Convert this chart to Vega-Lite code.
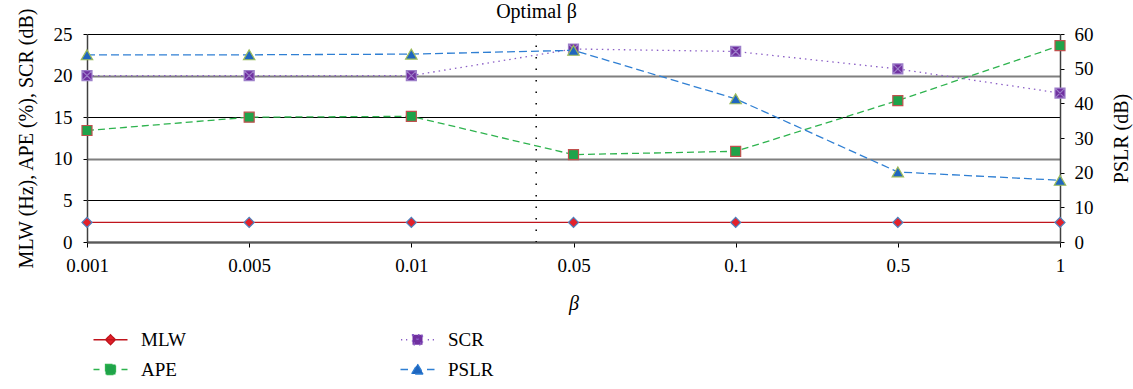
{
  "$schema": "https://vega.github.io/schema/vega-lite/v6.json",
  "autosize": {"type": "none"},
  "padding": {"left": 87, "top": 34, "right": 73, "bottom": 147},
  "width": 973,
  "height": 208,
  "background": "white",
  "title": {"text": "Optimal β", "font": "'Liberation Serif', serif", "fontSize": 20, "fontWeight": "normal", "color": "#000", "dx": -37, "offset": -31, "baseline": "alphabetic"},
  "config": {
    "view": {"stroke": null},
    "font": "'Liberation Serif', serif",
    "axis": {"labelFont": "'Liberation Serif', serif", "titleFont": "'Liberation Serif', serif", "labelFontSize": 19, "titleFontSize": 20, "titleFontWeight": "normal", "labelColor": "#000", "titleColor": "#000", "tickColor": "#000", "domainColor": "#333"},
    "legend": {"orient": "none", "legendX": 14, "legendY": 296, "columns": 2, "columnPadding": 210, "rowPadding": 10, "labelFont": "'Liberation Serif', serif", "labelFontSize": 19, "labelColor": "#000", "labelOffset": 21, "symbolSize": 100, "symbolStrokeWidth": 1.3, "padding": 0}
  },
  "data": {"values": [
    {"beta": "0.001", "idx": 0, "series": "MLW", "value": 2.35},
    {"beta": "0.005", "idx": 1, "series": "MLW", "value": 2.35},
    {"beta": "0.01", "idx": 2, "series": "MLW", "value": 2.35},
    {"beta": "0.05", "idx": 3, "series": "MLW", "value": 2.35},
    {"beta": "0.1", "idx": 4, "series": "MLW", "value": 2.35},
    {"beta": "0.5", "idx": 5, "series": "MLW", "value": 2.35},
    {"beta": "1", "idx": 6, "series": "MLW", "value": 2.35},
    {"beta": "0.001", "idx": 0, "series": "APE", "value": 13.4},
    {"beta": "0.005", "idx": 1, "series": "APE", "value": 15.0},
    {"beta": "0.01", "idx": 2, "series": "APE", "value": 15.1},
    {"beta": "0.05", "idx": 3, "series": "APE", "value": 10.5},
    {"beta": "0.1", "idx": 4, "series": "APE", "value": 10.9},
    {"beta": "0.5", "idx": 5, "series": "APE", "value": 17.0},
    {"beta": "1", "idx": 6, "series": "APE", "value": 23.6},
    {"beta": "0.001", "idx": 0, "series": "SCR", "value": 20.0},
    {"beta": "0.005", "idx": 1, "series": "SCR", "value": 20.0},
    {"beta": "0.01", "idx": 2, "series": "SCR", "value": 20.0},
    {"beta": "0.05", "idx": 3, "series": "SCR", "value": 23.2},
    {"beta": "0.1", "idx": 4, "series": "SCR", "value": 22.9},
    {"beta": "0.5", "idx": 5, "series": "SCR", "value": 20.8},
    {"beta": "1", "idx": 6, "series": "SCR", "value": 17.9},
    {"beta": "0.001", "idx": 0, "series": "PSLR", "value": 54.0},
    {"beta": "0.005", "idx": 1, "series": "PSLR", "value": 54.0},
    {"beta": "0.01", "idx": 2, "series": "PSLR", "value": 54.2},
    {"beta": "0.05", "idx": 3, "series": "PSLR", "value": 55.3},
    {"beta": "0.1", "idx": 4, "series": "PSLR", "value": 41.3},
    {"beta": "0.5", "idx": 5, "series": "PSLR", "value": 20.2},
    {"beta": "1", "idx": 6, "series": "PSLR", "value": 17.8}
  ]},
  "layer": [
    {
      "data": {"values": [{"optimal": 2.77, "label": "Optimal β"}]},
      "mark": {"type": "rule", "color": "#000", "strokeWidth": 1.5, "strokeDash": [1.5, 10]},
      "encoding": {
        "x": {"field": "optimal", "type": "quantitative", "scale": {"domain": [0, 6], "nice": false, "zero": false},
          "axis": {"values": [0, 1, 2, 3, 4, 5, 6], "labelExpr": "['0.001','0.005','0.01','0.05','0.1','0.5','1'][datum.value]", "title": "β", "titleFontStyle": "italic", "grid": false, "tickSize": 5, "labelPadding": 9, "titlePadding": 18, "domainColor": "#595959", "domainWidth": 2, "labelFlush": false}}
      }
    },
    {
      "transform": [{"filter": "datum.series !== 'PSLR'"}],
      "encoding": {
        "x": {"field": "idx", "type": "quantitative", "scale": {"domain": [0, 6], "nice": false, "zero": false}, "title": "β"},
        "y": {"field": "value", "type": "quantitative", "scale": {"domain": [0, 25], "nice": false},
          "axis": {"orient": "left", "values": [0, 5, 10, 15, 20, 25], "title": "MLW (Hz), APE (%), SCR (dB)", "grid": true,
            "gridColor": {"condition": {"test": "datum.value % 10 === 0", "value": "#7f7f7f"}, "value": "#000"},
            "gridWidth": {"condition": {"test": "datum.value % 10 === 0", "value": 2}, "value": 1},
            "tickSize": 4, "labelPadding": 11, "titlePadding": 17, "domainColor": "#404040", "domainWidth": 1.5}}
      },
      "layer": [
        {
          "mark": {"type": "line", "strokeWidth": 1.3},
          "encoding": {
            "stroke": {"field": "series", "type": "nominal", "scale": {"domain": ["MLW", "APE", "SCR", "PSLR"], "range": ["#c0141c", "#2eb34e", "#8b5fc6", "#2f7fd3"]}, "legend": {"title": null}},
            "strokeDash": {"field": "series", "type": "nominal", "scale": {"domain": ["MLW", "APE", "SCR", "PSLR"], "range": [[1, 0], [7, 4], [1.5, 4], [8, 4]]}, "legend": null}
          }
        },
        {
          "mark": {"type": "point", "filled": true, "opacity": 1, "strokeWidth": 1.2},
          "encoding": {
            "fill": {"field": "series", "type": "nominal", "scale": {"domain": ["MLW", "APE", "SCR", "PSLR"], "range": ["#e3202a", "#1fa34a", "#7030a0", "#1f66bf"]}, "legend": {"title": null}},
            "shape": {"condition": [
              {"test": "datum.series === 'MLW'", "value": "diamond"},
              {"test": "datum.series === 'APE'", "value": "square"},
              {"test": "datum.series === 'SCR'", "value": "M-1,-1H1V1H-1Z M-1,-1L1,1 M1,-1L-1,1"}], "value": "triangle-up"},
            "stroke": {"condition": [
              {"test": "datum.series === 'MLW'", "value": "#4f81bd"},
              {"test": "datum.series === 'APE'", "value": "#c0504d"},
              {"test": "datum.series === 'SCR'", "value": "#9d7fc9"}], "value": "#9bbb59"},
            "size": {"condition": [
              {"test": "datum.series === 'MLW'", "value": 100},
              {"test": "datum.series === 'APE'", "value": 100},
              {"test": "datum.series === 'SCR'", "value": 100}], "value": 130}
          }
        },
        {
          "transform": [{"filter": "false"}],
          "mark": {"type": "point", "filled": true, "opacity": 1},
          "encoding": {
            "shape": {"field": "series", "type": "nominal", "scale": {"domain": ["MLW", "APE", "SCR", "PSLR"], "range": [
              "M-3.4,0H3.4 M0,-1L1,0L0,1L-1,0Z",
              "M-3.4,0H-2.2 M2.2,0H3.4 M-1,-1H1V1H-1Z",
              "M-3.3,0H-3.05 M-2.3,0H-2.05 M2.05,0H2.3 M3.05,0H3.3 M-1,-1H1V1H-1Z M-1,-1L1,1 M1,-1L-1,1",
              "M-3.4,0H-1.9 M1.9,0H3.4 M0,-1.1L1.2,0.9H-1.2Z"]}, "legend": {"title": null}},
            "fill": {"field": "series", "type": "nominal", "scale": {"domain": ["MLW", "APE", "SCR", "PSLR"]}, "legend": {"title": null}},
            "stroke": {"field": "series", "type": "nominal", "scale": {"domain": ["MLW", "APE", "SCR", "PSLR"]}, "legend": {"title": null}}
          }
        }
      ]
    },
    {
      "transform": [{"filter": "datum.series === 'PSLR'"}],
      "encoding": {
        "x": {"field": "idx", "type": "quantitative", "scale": {"domain": [0, 6], "nice": false, "zero": false}, "title": "β"},
        "y": {"field": "value", "type": "quantitative", "scale": {"domain": [0, 60], "nice": false},
          "axis": {"orient": "right", "values": [0, 10, 20, 30, 40, 50, 60], "title": "PSLR (dB)", "titleAngle": 270, "titleBaseline": "middle", "grid": false, "tickSize": 4, "labelPadding": 10, "titlePadding": 28, "domainColor": "#404040", "domainWidth": 1.5}}
      },
      "layer": [
        {
          "mark": {"type": "line", "strokeWidth": 1.3},
          "encoding": {
            "stroke": {"field": "series", "type": "nominal", "scale": {"domain": ["MLW", "APE", "SCR", "PSLR"]}, "legend": {"title": null}},
            "strokeDash": {"field": "series", "type": "nominal", "scale": {"domain": ["MLW", "APE", "SCR", "PSLR"]}, "legend": null}
          }
        },
        {
          "mark": {"type": "point", "filled": true, "opacity": 1, "strokeWidth": 1.2, "shape": "triangle-up", "size": 130, "stroke": "#9bbb59"},
          "encoding": {
            "fill": {"field": "series", "type": "nominal", "scale": {"domain": ["MLW", "APE", "SCR", "PSLR"]}, "legend": {"title": null}}
          }
        }
      ]
    }
  ],
  "resolve": {"scale": {"y": "independent"}}
}
